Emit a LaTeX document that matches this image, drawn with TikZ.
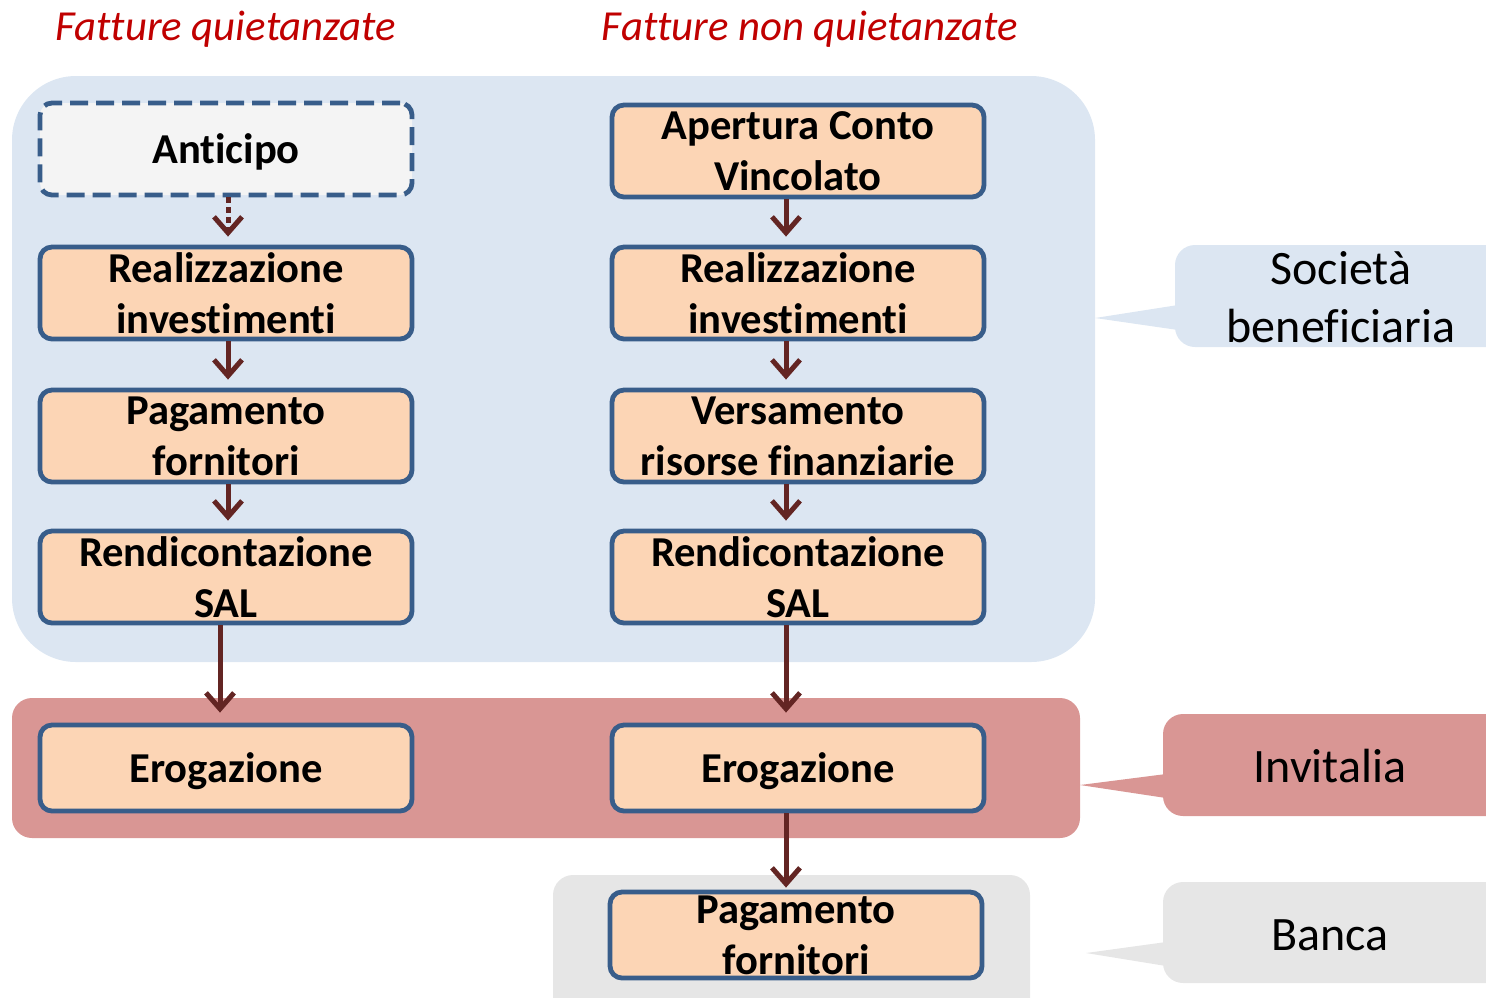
\documentclass[tikz,border=0pt]{standalone}
\usepackage{fontspec}
\setmainfont{Carlito}[RawFeature={-liga}]
\usetikzlibrary{arrows.meta}
\definecolor{blueBG}{HTML}{DCE6F2}
\definecolor{boxFill}{HTML}{FCD5B5}
\definecolor{boxDraw}{HTML}{385D8A}
\definecolor{arrowCol}{HTML}{632523}
\definecolor{redBand}{HTML}{D99694}
\definecolor{grayBG}{HTML}{E6E6E6}
\definecolor{titleRed}{HTML}{C00000}
\definecolor{antFill}{HTML}{F4F4F4}
\begin{document}
\begin{tikzpicture}[x=0.5pt,y=-0.5pt,
  box/.style={draw=boxDraw, line width=2.4pt, fill=boxFill, rounded corners=6pt,
    minimum width=186pt, minimum height=46pt, inner sep=0pt, align=center,
    font=\fontsize{21.3}{25.5}\selectfont\bfseries},
  onebox/.style={box, minimum height=43pt, text depth=0pt},
  flow/.style={draw=arrowCol, line width=2.5pt, -{Straight Barb[length=8pt,width=14pt]}, shorten >=4pt},
  title/.style={text=titleRed, font=\fontsize{21.4}{25}\selectfont\itshape},
  calltext/.style={align=center, font=\fontsize{24}{29}\selectfont}]
\useasboundingbox (0,0) rectangle (1486,997);
% backgrounds
\fill[blueBG, rounded corners=32pt] (12,76) rectangle (1095,662);
\fill[redBand, rounded corners=10pt] (12,698) rectangle (1080,838);
\fill[grayBG, rounded corners=10pt] (553,875) rectangle (1030,1030);
% callouts
\fill[blueBG, rounded corners=10pt] (1175,245) rectangle (1520,347);
\fill[blueBG] (1178,305) -- (1095,318) -- (1178,330) -- cycle;
\fill[redBand, rounded corners=10pt] (1163,714) rectangle (1520,816);
\fill[redBand] (1166,774) -- (1080,785) -- (1166,798) -- cycle;
\fill[grayBG, rounded corners=10pt] (1163,882) rectangle (1520,983);
\fill[grayBG] (1166,942) -- (1086,953) -- (1166,966) -- cycle;
% titles
\node[title] (t1) at (226,29) {Fatture quietanzate};
\node[title] (t2) at (810,29) {Fatture non quietanzate};
% callout texts
\node[calltext] (cs) at (1341,297) {Società\\beneficiaria};
\node[calltext] (ci) at (1330,766) {Invitalia};
\node[calltext] (cb) at (1330,935) {Banca};
% left column
\node[box, minimum height=46pt, text depth=0pt, fill=antFill, dash pattern=on 9pt off 4pt] (ant) at (226,149) {Anticipo};
\node[box] (r1) at (226,293) {Realizzazione\\investimenti};
\node[box] (p1) at (226,436) {Pagamento\\fornitori};
\node[box] (s1) at (226,577) {Rendicontazione\\SAL};
\node[onebox] (e1) at (226,768) {Erogazione};
% right column
\node[box] (a2) at (798,151) {Apertura Conto\\Vincolato};
\node[box] (r2) at (798,293) {Realizzazione\\investimenti};
\node[box] (v2) at (798,436) {Versamento\\risorse finanziarie};
\node[box] (s2) at (798,577) {Rendicontazione\\SAL};
\node[onebox] (e2) at (798,768) {Erogazione};
\node[box, minimum height=43pt] (p3) at (796,935) {Pagamento\\fornitori};
% arrows left
\draw[flow, dash pattern=on 3pt off 2pt] ([xshift=1pt]ant.south) -- ([xshift=1pt]r1.north);
\draw[flow] ([xshift=1pt]r1.south) -- ([xshift=1pt]p1.north);
\draw[flow] ([xshift=1pt]p1.south) -- ([xshift=1pt]s1.north);
\draw[flow, shorten >=5pt] ([xshift=-3pt]s1.south) -- ([xshift=-3pt]e1.north);
% arrows right
\draw[flow] ([xshift=-6pt]a2.south) -- ([xshift=-6pt]r2.north);
\draw[flow] ([xshift=-6pt]r2.south) -- ([xshift=-6pt]v2.north);
\draw[flow] ([xshift=-6pt]v2.south) -- ([xshift=-6pt]s2.north);
\draw[flow, shorten >=5pt] ([xshift=-6pt]s2.south) -- ([xshift=-6pt]e2.north);
\draw[flow, shorten >=1pt] ([xshift=-6pt]e2.south) -- ([xshift=-5pt]p3.north);
\end{tikzpicture}
\end{document}
